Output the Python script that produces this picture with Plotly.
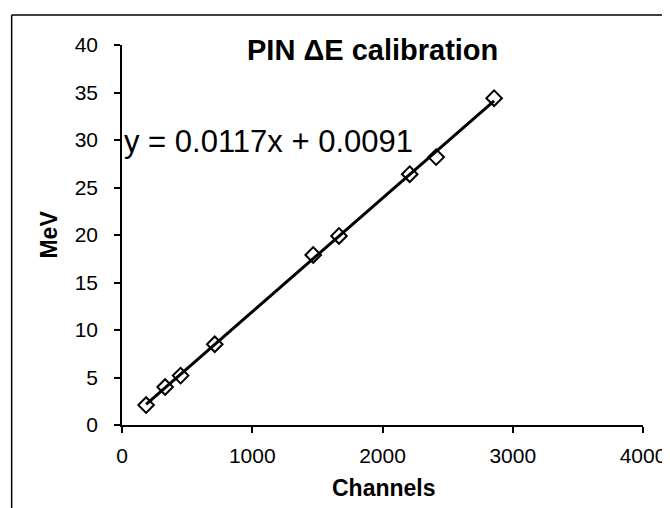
import numpy as np
import plotly.graph_objects as go

# Data
channels = [185, 331, 450, 712, 1468, 1666, 2209, 2412, 2857]
mev = [2.1, 4.0, 5.2, 8.5, 17.9, 19.9, 26.4, 28.2, 34.4]

x_ticks = [0, 1000, 2000, 3000, 4000]
y_ticks = [0, 5, 10, 15, 20, 25, 30, 35, 40]

title_text = "PIN \u0394E calibration"
equation_text = "y = 0.0117x + 0.0091"
x_title = "Channels"
y_title = "MeV"

FONT = "Liberation Sans, Arial, sans-serif"

# linear trendline computed from the data
slope, intercept = np.polyfit(channels, mev, 1)
trend_x = [min(channels), max(channels)]
trend_y = [slope * v + intercept for v in trend_x]

fig = go.Figure()
fig.add_trace(go.Scatter(
    x=channels, y=mev, mode="markers",
    marker=dict(symbol="diamond-open", size=12, color="black",
                line=dict(width=2, color="black")),
    showlegend=False, hoverinfo="x+y"))
fig.add_trace(go.Scatter(
    x=trend_x, y=trend_y, mode="lines",
    line=dict(color="black", width=3),
    showlegend=False, hoverinfo="skip"))

W, H = 670, 508
L, R, T, B = 114, 32, 37, 91

axis_common = dict(showgrid=False, zeroline=False, showline=True,
                   linecolor="black", linewidth=1.5, ticks="outside",
                   ticklen=6, tickwidth=1.5, tickcolor="black",
                   tickfont=dict(family=FONT, size=21, color="black"))

fig.update_layout(
    width=W, height=H,
    margin=dict(l=L, r=R, t=T, b=B),
    paper_bgcolor="white", plot_bgcolor="white",
    xaxis=dict(range=[0, 4000], tickvals=x_ticks,
               ticklabelstandoff=5, **axis_common),
    yaxis=dict(range=[0, 40], tickvals=y_ticks,
               ticklabelstandoff=12, **axis_common),
    annotations=[
        dict(text="<b>" + title_text + "</b>", xref="paper", yref="paper",
             x=0.481, y=0.987, xanchor="center", yanchor="middle",
             showarrow=False, font=dict(family=FONT, size=29, color="black")),
        dict(text=equation_text, xref="paper", yref="paper",
             x=0.0, y=0.745, xanchor="left", yanchor="middle",
             showarrow=False, font=dict(family=FONT, size=31, color="black")),
        dict(text="<b>" + x_title + "</b>", xref="paper", yref="paper",
             x=0.502, y=-0.166, xanchor="center", yanchor="middle",
             showarrow=False, font=dict(family=FONT, size=23, color="black")),
        dict(text="<b>" + y_title + "</b>", xref="paper", yref="paper",
             x=-0.141, y=0.5, xanchor="center", yanchor="middle", textangle=-90,
             showarrow=False, font=dict(family=FONT, size=23, color="black")),
    ],
    shapes=[
        dict(type="line", xref="paper", yref="paper",
             x0=-0.2118, x1=-0.2118, y0=1.079, y1=-0.3,
             line=dict(color="black", width=1.5)),
        dict(type="line", xref="paper", yref="paper",
             x0=-0.2118, x1=1.0553, y0=1.079, y1=1.079,
             line=dict(color="black", width=1.5)),
        dict(type="line", xref="paper", yref="paper",
             x0=1.0553, x1=1.0553, y0=1.079, y1=0.85,
             line=dict(color="black", width=1.5)),
        dict(type="line", xref="paper", yref="paper",
             x0=0.761, x1=1.08, y0=-0.234, y1=-0.234,
             line=dict(color="black", width=1.5)),
    ],
)

fig.write_html("out.html")
